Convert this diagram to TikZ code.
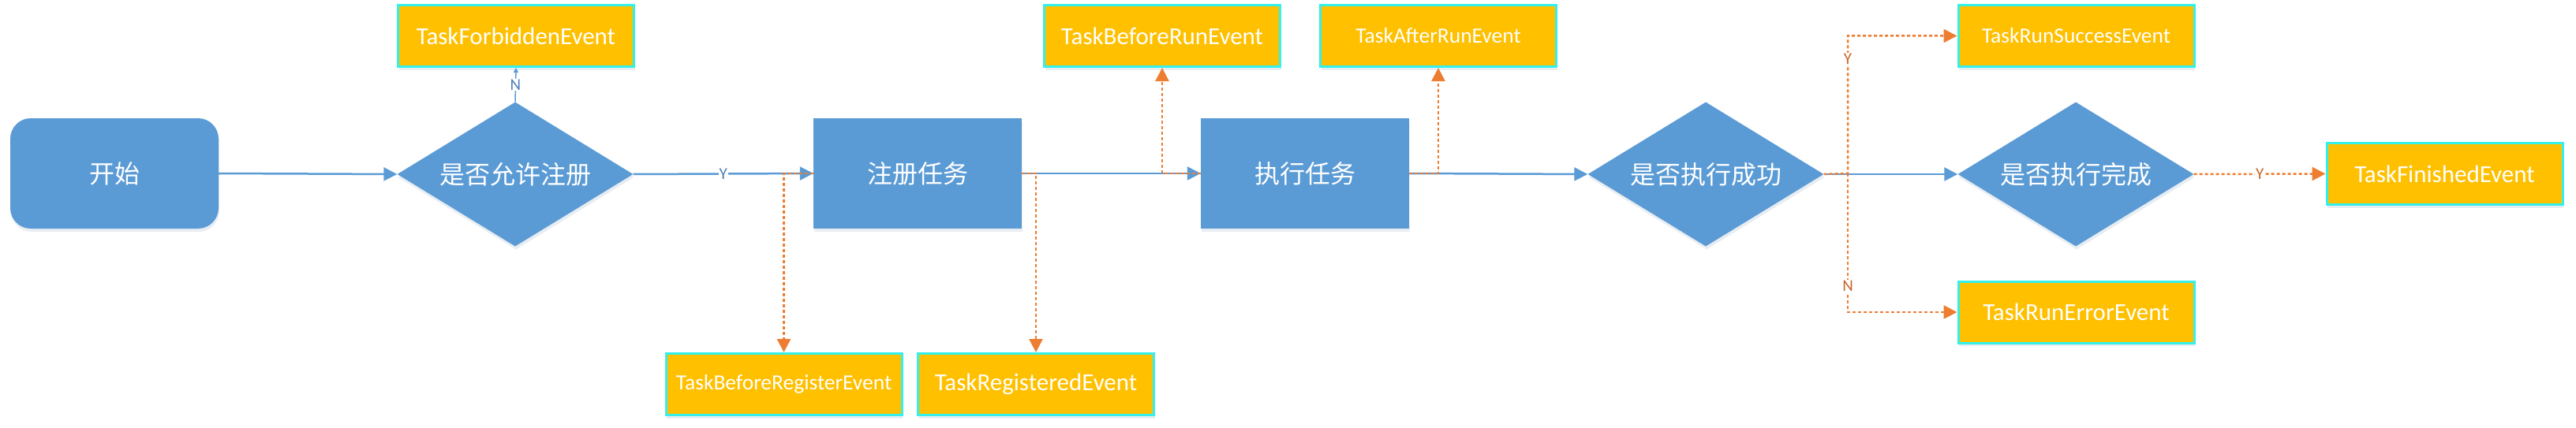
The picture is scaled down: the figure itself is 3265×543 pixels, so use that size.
\documentclass[tikz,border=0pt]{standalone}
\usepackage{fontspec}
\setmainfont{Carlito}
\newfontfamily\cjk{Noto Sans CJK SC}
\usetikzlibrary{shapes.geometric,arrows.meta,shadows}
\definecolor{flowblue}{HTML}{5B9BD5}
\definecolor{floworange}{HTML}{ED7D31}
\definecolor{evyellow}{HTML}{FFC000}
\definecolor{evcyan}{HTML}{33F0EC}
\definecolor{lblblue}{HTML}{4E7FB8}
\definecolor{lblorange}{HTML}{C9642A}
\begin{document}
\begin{tikzpicture}[x=1pt,y=-1pt,
  softshadow/.style={drop shadow={shadow xshift=1pt,shadow yshift=-4pt,opacity=0.12,fill=flowblue!70!black}},
  startbox/.style={rectangle,rounded corners=26pt,fill=flowblue,minimum width=264pt,minimum height=140pt,inner sep=0pt,text=white,font=\cjk\fontsize{32}{38}\selectfont,softshadow},
  procbox/.style={rectangle,fill=flowblue,minimum width=264pt,minimum height=140pt,inner sep=0pt,text=white,font=\cjk\fontsize{32}{38}\selectfont,softshadow},
  decbox/.style={diamond,aspect=1.634,fill=flowblue,minimum width=299pt,minimum height=183pt,inner sep=0pt,text=white,font=\cjk\fontsize{32}{38}\selectfont,softshadow},
  evbox/.style={rectangle,fill=evyellow,draw=evcyan,line width=3pt,minimum width=299pt,minimum height=78pt,inner sep=0pt,text=white,font=\fontsize{31}{36}\selectfont,softshadow},
  evsmall/.style={evbox,font=\fontsize{27.5}{32}\selectfont},
  flow/.style={draw=flowblue,line width=2.5pt,-{Triangle[length=17pt,width=17pt]}},
  thinflow/.style={draw=flowblue,line width=1.5pt,-{Triangle[length=6pt,width=6pt]}},
  evlink/.style={draw=floworange,line width=2.5pt,dash pattern=on 4pt off 3pt,-{Triangle[length=17pt,width=17pt]}},
  bluelbl/.style={fill=white,inner sep=1pt,text=lblblue,font=\fontsize{21}{24}\selectfont},
  orangelbl/.style={fill=white,inner sep=1pt,text=lblorange,font=\fontsize{21}{24}\selectfont}
]
\useasboundingbox (0,0) rectangle (3265,543);

\node[startbox] (start) at (145,220) {开始};
\node[decbox] (d1) at (653,221) {是否允许注册};
\node[procbox] (reg) at (1163,220) {注册任务};
\node[procbox] (exec) at (1654,220) {执行任务};
\node[decbox] (d2) at (2162,221) {是否执行成功};
\node[decbox] (d3) at (2631,221) {是否执行完成};

\node[evbox] (forb) at (654,45.5) {TaskForbiddenEvent};
\node[evsmall] (bfreg) at (993.5,487.5) {TaskBeforeRegisterEvent};
\node[evbox] (regd) at (1313,487.5) {TaskRegisteredEvent};
\node[evbox] (bfrun) at (1473,45.5) {TaskBeforeRunEvent};
\node[evsmall] (afrun) at (1823,45.5) {TaskAfterRunEvent};
\node[evsmall] (succ) at (2631.5,45.5) {TaskRunSuccessEvent};
\node[evbox] (err) at (2631.5,396) {TaskRunErrorEvent};
\node[evbox] (fin) at (3098.5,220.5) {TaskFinishedEvent};

\coordinate (split) at (2342,220);

\draw[flow] (start.east) -- (d1.west);
\draw[flow] (d1.east) -- node[bluelbl] {Y} (reg.west);
\draw[thinflow] (d1.north) -- node[bluelbl] {N} (forb.south);
\draw[flow] (reg.east) -- (exec.west);
\draw[flow] (exec.east) -- (d2.west);
\draw[flow] (d2.east) -- (d3.west);

\draw[evlink] (reg.west) -| (bfreg.north);
\draw[evlink] (reg.east) -| (regd.north);
\draw[evlink] (exec.west) -| (bfrun.south);
\draw[evlink] (exec.east) -| (afrun.south);
\draw[evlink] (d2.east) -- (split) |- node[orangelbl,pos=0.417] {Y} (succ.west);
\draw[evlink] (split) |- node[orangelbl,pos=0.406] {N} (err.west);
\draw[evlink] (d3.east) -- node[orangelbl] {Y} (fin.west);
\end{tikzpicture}
\end{document}
